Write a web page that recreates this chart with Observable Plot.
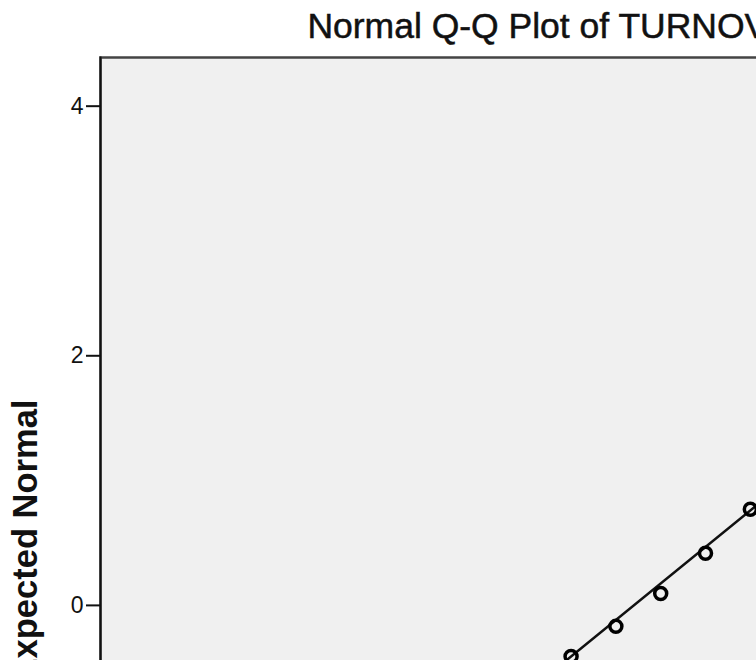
<!DOCTYPE html>
<html>
<head>
<meta charset="utf-8">
<script src="https://cdn.jsdelivr.net/npm/d3@7"></script>
<script src="https://cdn.jsdelivr.net/npm/@observablehq/plot@0.6"></script>
<style>
  html, body { margin: 0; padding: 0; overflow: hidden; background: #fff; }
  #wrap { width: 1045px; }
  #title {
    box-sizing: border-box; height: 52px; padding-top: 9px;
    margin-left: 100px; width: 925px; text-align: center; white-space: nowrap;
    font-family: "Liberation Sans", Arial, sans-serif; font-size: 35.5px; line-height: 35.5px; color: #111;
    -webkit-text-stroke: 0.5px #111;
  }
</style>
</head>
<body>
<div id="wrap">
  <div id="title">Normal Q-Q Plot of TURNOVER</div>
  <div id="chart"></div>
</div>
<script>
const observed = [10, 11, 12, 13, 14];
const expectedNormal = [-0.41, -0.168, 0.096, 0.417, 0.77];
// Reference line parameters: expected = (observed - mean) / sd
const refMean = 11.40;
const refSd = 3.418;
// Scale domains and tick values
const xDomain = [-0.5, 20.14];
const yDomain = [-3.35, 4.39];
const yTicks = [-2, 0, 2, 4];
const yLabel = "Expected Normal";

const points = observed.map((x, i) => ({x, y: expectedNormal[i]}));
const refLine = xDomain.map(x => ({x, y: (x - refMean) / refSd}));

const chart = Plot.plot({
  width: 1045,
  height: 1011,
  marginLeft: 100,
  marginRight: 20,
  marginTop: 5,
  marginBottom: 40,
  style: {fontFamily: "'Liberation Sans', Arial, sans-serif", fontSize: "23px", color: "#111", background: "transparent"},
  x: {domain: xDomain, axis: null},
  y: {domain: yDomain, axis: null},
  marks: [
    Plot.frame({fill: "#f0f0f0", stroke: "#444", strokeWidth: 2.5}),
    Plot.line(refLine, {x: "x", y: "y", stroke: "#111", strokeWidth: 2.5, clip: true}),
    Plot.dot(points, {x: "x", y: "y", r: 6, stroke: "#000", strokeWidth: 3.5, fill: "none"}),
    Plot.frame({anchor: "left", stroke: "#111", strokeWidth: 2}),
    Plot.axisY({ticks: yTicks, tickSize: 14, tickPadding: 3, fontSize: 23, stroke: "#111", strokeWidth: 2, label: null}),
    Plot.text([yLabel], {frameAnchor: "left", rotate: -90, dx: -64, lineAnchor: "bottom", textAnchor: "middle",
      fontSize: 34.5, fontWeight: "bold", fill: "#111"})
  ]
});
document.getElementById("chart").appendChild(chart);
</script>
</body>
</html>
